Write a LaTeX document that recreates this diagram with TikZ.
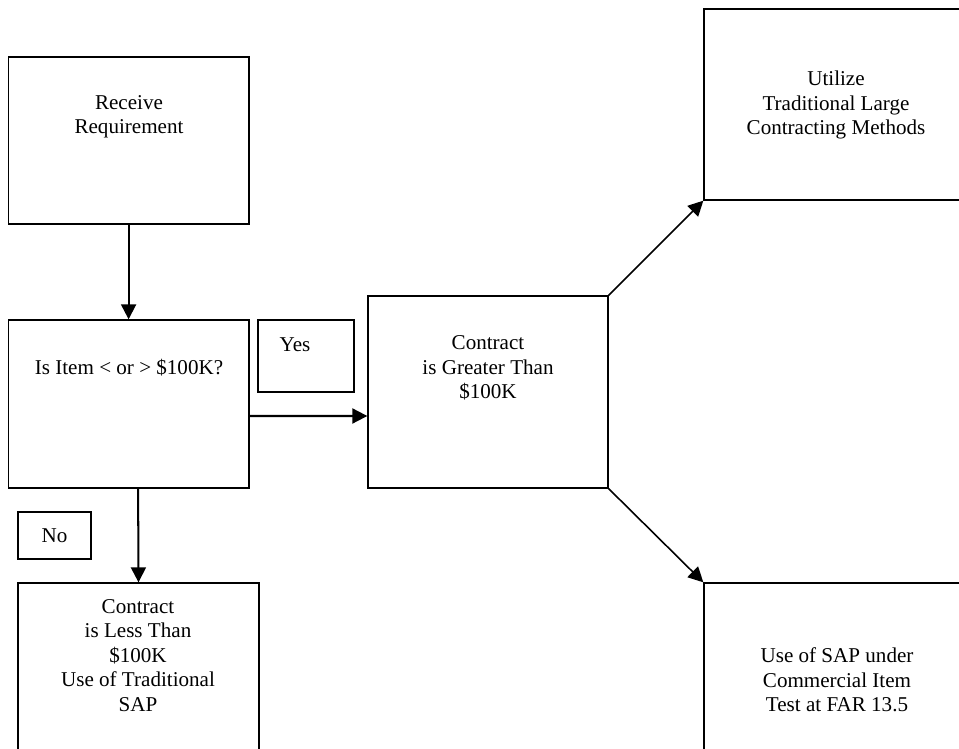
\documentclass[tikz,border=0pt]{standalone}
\usepackage{fontspec}
\setmainfont{Liberation Serif}
\usetikzlibrary{arrows.meta, calc}

\tikzset{
  blk/.style={draw, rectangle, line width=0.8pt, inner sep=0pt},
  lbl/.style={align=center, inner sep=0pt, font=\fontsize{12pt}{13.9pt}\selectfont},
  arr/.style={-{Triangle[length=0.3cm,width=0.3cm]}, line width=1.15pt},
}

\begin{document}
\begin{tikzpicture}[x=0.02cm, y=-0.02cm]
\path[use as bounding box, clip] (0,0) rectangle (959,749);

    % Boxes
    \node[blk, minimum width=4.81cm, minimum height=3.34cm] (recv) at (128.6,140.5) {};
    \node[blk, minimum width=4.81cm, minimum height=3.36cm] (isitem) at (128.6,404) {};
    \node[blk, minimum width=1.92cm, minimum height=1.44cm] (yes) at (306,356) {};
    \node[blk, minimum width=4.8cm, minimum height=3.84cm] (greater) at (488,392) {};
    \node[blk, lbl, minimum width=1.46cm, minimum height=0.94cm] (no) at (54.5,535.5) {No};
    \node[blk, minimum width=4.82cm, minimum height=4.34cm] (less) at (138.5,691.5) {};
    \node[blk, minimum width=6cm, minimum height=3.82cm] (util) at (854,104.5) {};
    \node[blk, minimum width=6cm, minimum height=4.34cm] (comm) at (854,691.5) {};

    % Texts
    \node[lbl] (recvtxt) at (129,116.5) {Receive\\Requirement};
    \node[lbl] (isitemtxt) at (129,368) {Is Item < or > \$100K?};
    \node[lbl] (yestxt) at (295,345) {Yes};
    \node[lbl] (greatertxt) at (488,368) {Contract\\is Greater Than\\\$100K};
    \node[lbl] (lesstxt) at (138,655.5) {Contract\\is Less Than\\\$100K\\Use of Traditional\\SAP};
    \node[lbl] (utiltxt) at (836,105) {Utilize\\Traditional Large\\Contracting Methods};
    \node[lbl] (commtxt) at (837,680) {Use of SAP under\\Commercial Item\\Test at FAR 13.5};

    % Arrows
    \draw[arr] (recv.south) -- (isitem.north);
    \draw[arr] ([yshift=-0.24cm]isitem.east) -- ([yshift=-0.48cm]greater.west);
    \draw[arr] ([xshift=0.19cm]isitem.south) -- (less.north);
    \draw[arr, line width=0.9pt] (greater.north east) -- (util.south west);
    \draw[arr, line width=0.9pt] (greater.south east) -- (comm.north west);

\end{tikzpicture}
\end{document}
